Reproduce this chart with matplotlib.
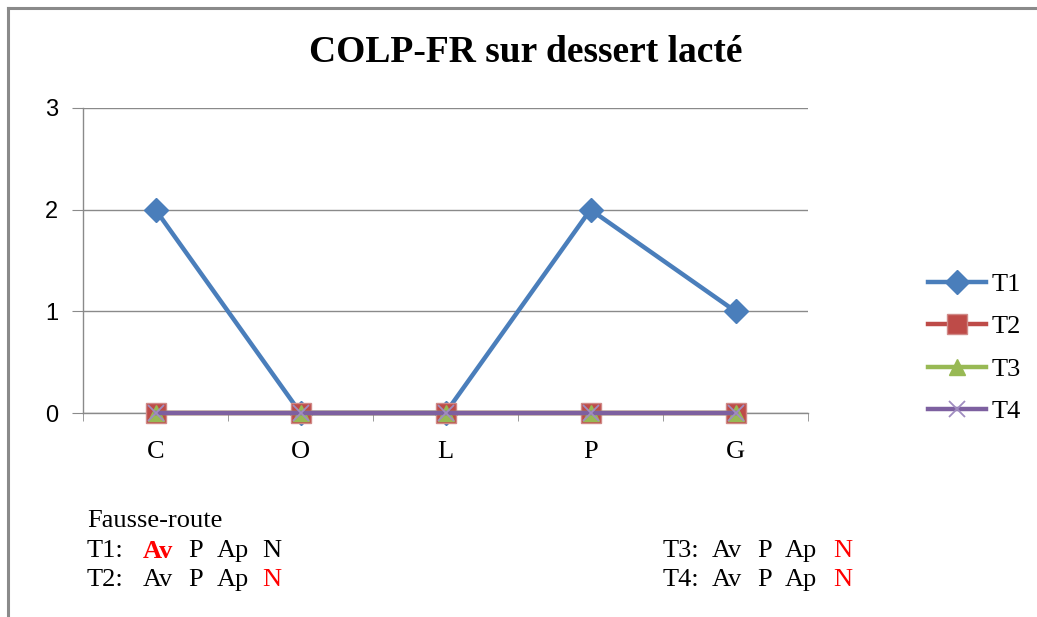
import matplotlib
matplotlib.use("Agg")
import matplotlib.pyplot as plt
from matplotlib.lines import Line2D
import numpy as np

categories = ["C", "O", "L", "P", "G"]
T1 = [2, 0, 0, 2, 1]
T2 = [0, 0, 0, 0, 0]
T3 = [0, 0, 0, 0, 0]
T4 = [0, 0, 0, 0, 0]
series_names = ["T1", "T2", "T3", "T4"]
title = "COLP-FR sur dessert lacté"

W, H = 1037, 617
fig = plt.figure(figsize=(W / 100, H / 100), dpi=100)
fig.patch.set_facecolor("white")

def fx(x):
    return x / W

def fy(y):
    return 1 - y / H

# partial chart frame (top and left lines)
fig.add_artist(Line2D([fx(8), fx(1037)], [fy(8), fy(8)], color="#8a8a8a", lw=2.2))
fig.add_artist(Line2D([fx(8), fx(8)], [fy(8), fy(617)], color="#8a8a8a", lw=2.2))

ax = fig.add_axes([fx(83), fy(413), fx(808) - fx(83), fy(108) - fy(413)])
x = np.arange(len(categories))

blue = "#4A7EBB"
red = "#BE4B48"
green = "#98B954"
purple = "#7D60A0"

ax.plot(x, T1, color=blue, lw=3.2, marker="D", ms=12, mfc=blue, mec=blue,
        clip_on=False, zorder=3, label=series_names[0])
ax.plot(x, T2, color=red, lw=3.2, marker="s", ms=14, mfc=red, mec="#d08a88",
        clip_on=False, zorder=4, label=series_names[1])
ax.plot(x, T3, color=green, lw=3.2, marker="^", ms=12, mfc=green, mec=green,
        clip_on=False, zorder=5, label=series_names[2])
ax.plot(x, T4, color=purple, lw=3.2, marker="x", ms=12, mew=1.3, mfc=purple,
        mec="#a08cc0", clip_on=False, zorder=6, label=series_names[3])

ax.set_xlim(-0.5, len(categories) - 0.5)
ax.set_ylim(0, 3)
ax.set_yticks([0, 1, 2, 3])
ax.set_xticks(x)
ax.set_xticklabels(categories, family="Liberation Serif", fontsize=19)
ax.set_xticks(np.arange(-0.5, len(categories), 1.0), minor=True)
ax.tick_params(axis="x", which="major", length=0, pad=20)
ax.tick_params(axis="x", which="minor", length=6, color="#8a8a8a", direction="out")
ax.tick_params(axis="y", length=8, color="#8a8a8a", direction="out", pad=10)
for lab in ax.get_yticklabels():
    lab.set_family("Liberation Sans")
    lab.set_fontsize(17)

ax.grid(axis="y", color="#8a8a8a", lw=1.0)
ax.set_axisbelow(True)
for s in ["top", "right"]:
    ax.spines[s].set_visible(False)
for s in ["left", "bottom"]:
    ax.spines[s].set_color("#8a8a8a")
    ax.spines[s].set_linewidth(1.0)

fig.text(fx(526), fy(52), title, family="Liberation Serif", fontweight="bold",
         fontsize=27, ha="center", va="center")

leg = ax.legend(loc="center left", bbox_to_anchor=(fx(928), fy(348)),
                bbox_transform=fig.transFigure, frameon=False, borderpad=0,
                borderaxespad=0, handlelength=2.2, handletextpad=0.2,
                labelspacing=0.72, prop={"family": "Liberation Serif", "size": 19})

fs = 19
ser = "Liberation Serif"
fig.text(fx(87), fy(521), "Fausse-route", family=ser, fontsize=fs, va="center")

rows = [
    (87, 551, "T1:", [(143, "Av", "red", "bold"), (188, "P", "black", "normal"),
                     (217, "Ap", "black", "normal"), (262, "N", "black", "normal")]),
    (87, 580, "T2:", [(143, "Av", "black", "normal"), (188, "P", "black", "normal"),
                     (217, "Ap", "black", "normal"), (262, "N", "red", "normal")]),
    (663, 551, "T3:", [(712, "Av", "black", "normal"), (757, "P", "black", "normal"),
                      (785, "Ap", "black", "normal"), (833, "N", "red", "normal")]),
    (663, 580, "T4:", [(712, "Av", "black", "normal"), (757, "P", "black", "normal"),
                      (785, "Ap", "black", "normal"), (833, "N", "red", "normal")]),
]
for x0, y0, lab, parts in rows:
    fig.text(fx(x0), fy(y0), lab, family=ser, fontsize=fs, va="center")
    for xp, t, c, w in parts:
        fig.text(fx(xp), fy(y0), t, family=ser, fontsize=fs, va="center",
                 color=c, fontweight=w)

fig.savefig("out.png", dpi=100)
